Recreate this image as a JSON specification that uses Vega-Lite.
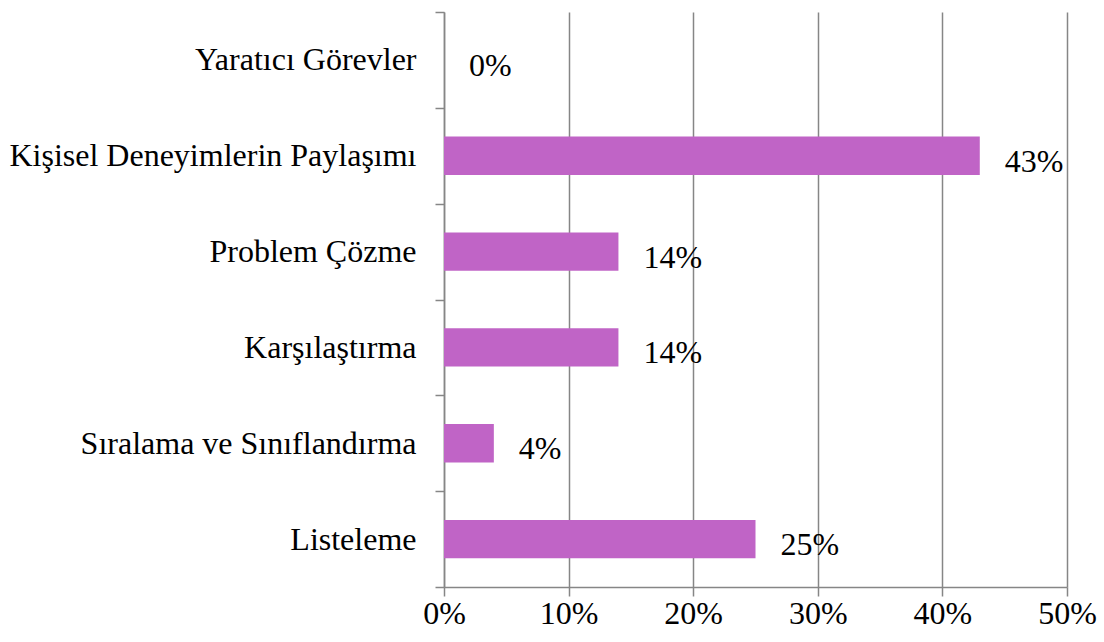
{
  "$schema": "https://vega.github.io/schema/vega-lite/v6.json",
  "width": 623,
  "height": 575,
  "autosize": {"type": "none"},
  "padding": {"left": 444, "top": 12, "right": 37, "bottom": 55},
  "background": "white",
  "config": {
    "view": {"stroke": null},
    "font": "Liberation Serif",
    "axis": {"domainColor": "#868686", "tickColor": "#868686", "gridColor": "#868686", "labelFont": "Liberation Serif", "labelColor": "black", "labelFontSize": 32, "titleFontSize": 0}
  },
  "data": {
    "values": [
      {"category": "Yaratıcı Görevler", "value": 0.0},
      {"category": "Kişisel Deneyimlerin Paylaşımı", "value": 0.43},
      {"category": "Problem Çözme", "value": 0.14},
      {"category": "Karşılaştırma", "value": 0.14},
      {"category": "Sıralama ve Sınıflandırma", "value": 0.04},
      {"category": "Listeleme", "value": 0.25}
    ]
  },
  "encoding": {
    "y": {
      "field": "category", "type": "nominal", "sort": null, "title": null,
      "scale": {"paddingInner": 0, "paddingOuter": 0},
      "axis": {"tickBand": "extent", "tickSize": 9, "labelPadding": 19, "domainWidth": 1.5, "tickWidth": 1.5, "labelLimit": 440}
    },
    "x": {
      "field": "value", "type": "quantitative", "title": null,
      "scale": {"domain": [0, 0.5], "nice": false},
      "axis": {"format": ".0%", "values": [0, 0.1, 0.2, 0.3, 0.4, 0.5], "tickSize": 9, "labelPadding": 2, "grid": true, "gridWidth": 1.5, "domainWidth": 1.5, "tickWidth": 1.5, "labelFlush": false}
    }
  },
  "layer": [
    {"mark": {"type": "bar", "color": "#C064C6", "height": {"band": 0.4}}},
    {
      "mark": {"type": "text", "align": "left", "baseline": "middle", "dx": 25, "dy": 6, "fontSize": 32, "font": "Liberation Serif", "color": "black"},
      "encoding": {"text": {"field": "value", "type": "quantitative", "format": ".0%"}}
    }
  ]
}
